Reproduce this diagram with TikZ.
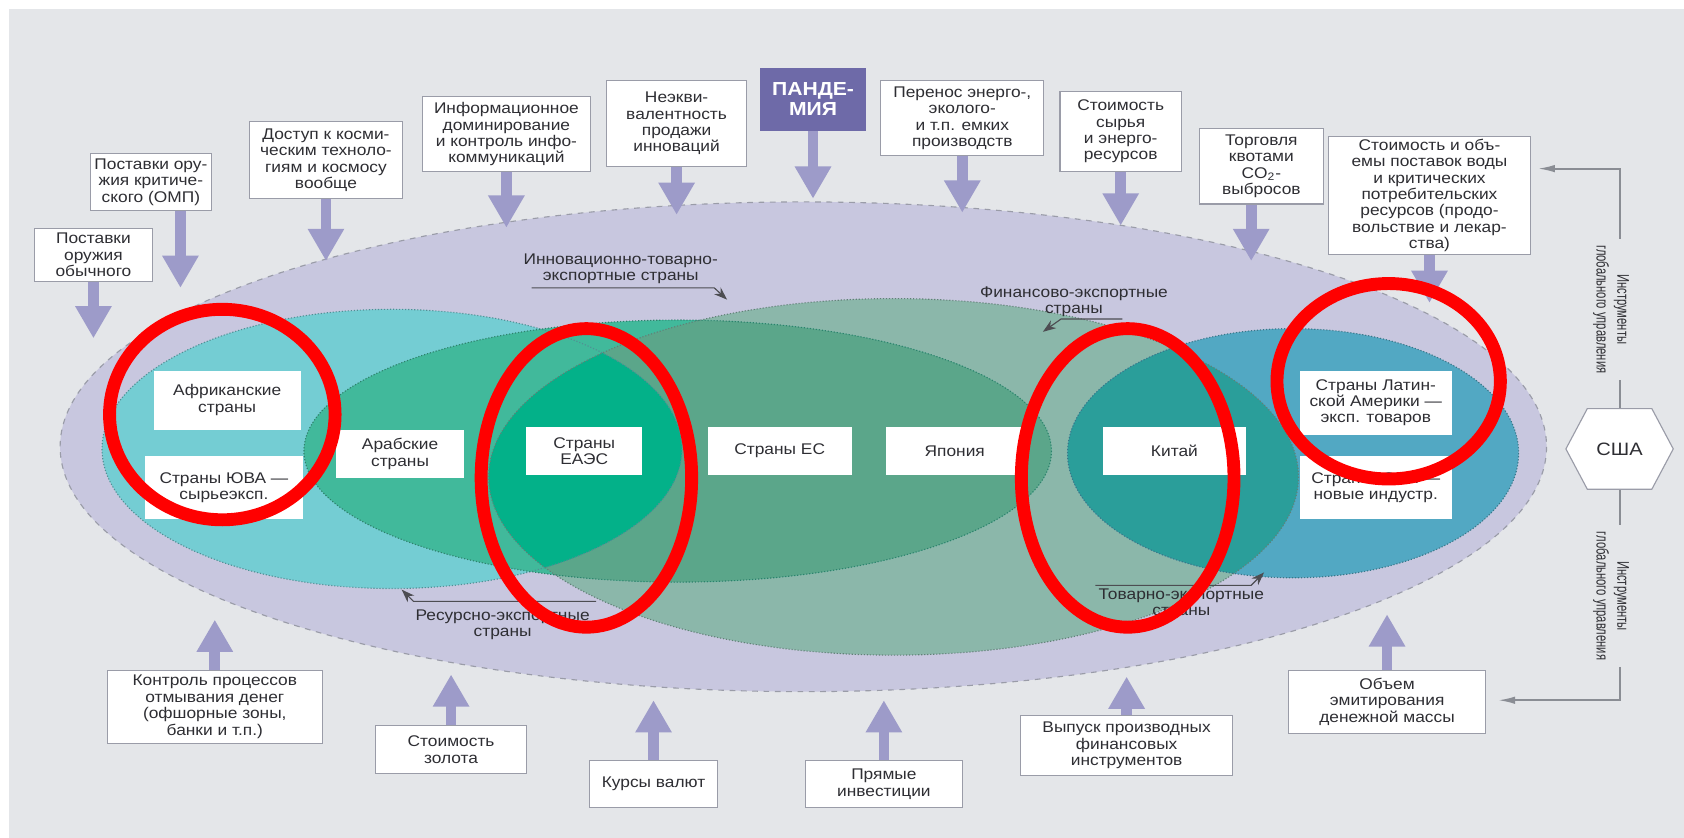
\documentclass[tikz,border=0pt]{standalone}
\usepackage{fontspec}
\setmainfont{Liberation Sans}[FakeStretch=1.12]
\newfontfamily\narrowfont{Liberation Sans}[FakeStretch=0.66]
\usetikzlibrary{arrows.meta,shapes.symbols}
\definecolor{bgcol}{HTML}{E4E6E9}
\definecolor{lavcol}{HTML}{C8C7DF}
\definecolor{cyancol}{HTML}{74CDD3}
\definecolor{innocol}{HTML}{8BB7AA}
\definecolor{fincol}{HTML}{41B99B}
\definecolor{darkgreen}{HTML}{5BA68A}
\definecolor{lenscol}{HTML}{03B189}
\definecolor{bluecol}{HTML}{52A8C3}
\definecolor{tealcol}{HTML}{2A9E9A}
\definecolor{arrowcol}{HTML}{9D9BC9}
\definecolor{pandcol}{HTML}{6E6AA8}
\definecolor{txtcol}{HTML}{2E2E33}
\definecolor{govcol}{HTML}{8A8D94}
\definecolor{edgecol}{HTML}{9A9CA8}
\begin{document}
\begin{tikzpicture}[x=0.02cm,y=-0.02cm,
  every node/.style={font=\fontsize{8.2}{8.7}\selectfont,text=txtcol,align=center},
  infobox/.style={draw=edgecol,fill=white,line width=0.6pt,inner sep=1pt},
  country/.style={fill=white,inner sep=1pt},
  feed/.style={draw=arrowcol,line width=0.2cm,-{Triangle[length=0.6cm,width=0.64cm]}},
  ptr/.style={draw=txtcol!85,line width=0.6pt,-{Stealth[length=7pt,width=5pt]}},
  gov/.style={draw=govcol,line width=1pt},
  govtext/.style={font=\narrowfont\fontsize{9}{11}\selectfont,rotate=-90},
  zone/.style={draw=#1,densely dotted,line width=0.6pt},
  ring/.style={draw=red,line width=0.24cm}]
    \useasboundingbox (0,0) rectangle (1568,780);
    \fill[white] (0,0) rectangle (1568,780);
    \fill[bgcol] (8,8) rectangle (1568,780);
    \fill[lavcol] (748,416) ellipse [x radius=692, y radius=228];
    \fill[cyancol] (365,418) ellipse [x radius=270, y radius=130];
    \fill[innocol] (832,444) ellipse [x radius=377, y radius=166];
    \fill[bluecol] (1204,422) ellipse [x radius=210, y radius=116];
    \fill[fincol] (631,420) ellipse [x radius=348, y radius=122];
    \begin{scope}
        \clip (832,444) ellipse [x radius=377, y radius=166];
        \fill[darkgreen] (631,420) ellipse [x radius=348, y radius=122];
        \fill[lenscol] (365,418) ellipse [x radius=270, y radius=130];
        \fill[tealcol] (1204,422) ellipse [x radius=210, y radius=116];
    \end{scope}
    \draw[draw=edgecol,dashed,line width=0.6pt] (748,416) ellipse [x radius=692, y radius=228];
    \draw[zone=cyancol!70!black] (365,418) ellipse [x radius=270, y radius=130];
    \draw[zone=innocol!70!black] (832,444) ellipse [x radius=377, y radius=166];
    \draw[zone=bluecol!70!black] (1204,422) ellipse [x radius=210, y radius=116];
    \draw[zone=fincol!70!black] (631,420) ellipse [x radius=348, y radius=122];

    \node[infobox,minimum width=2.2cm,minimum height=0.98cm] (arms) at (87,237.5) {Поставки\\оружия\\обычного};
    \node[infobox,minimum width=2.26cm,minimum height=1.06cm] (wmd) at (140.5,169.5) {Поставки ору-\\жия критиче-\\ского (ОМП)};
    \node[infobox,minimum width=2.86cm,minimum height=1.44cm] (space) at (303.5,149) {Доступ к косми-\\ческим техноло-\\гиям и космосу\\вообще};
    \node[infobox,minimum width=3.14cm,minimum height=1.4cm] (info) at (471.5,125) {Информационное\\доминирование\\и контроль инфо-\\коммуникаций};
    \node[infobox,minimum width=2.6cm,minimum height=1.6cm] (neq) at (630,115) {Неэкви-\\валентность\\продажи\\инноваций};
    \node[fill=pandcol,text=white,font=\fontsize{10}{10.5}\selectfont\bfseries,minimum width=1.96cm,minimum height=1.18cm] (pand) at (757,92.5) {ПАНДЕ-\\МИЯ};
    \node[infobox,minimum width=3.04cm,minimum height=1.4cm] (shift) at (896,110) {Перенос энерго-,\\эколого-\\и т.п. емких\\производств};
    \node[infobox,minimum width=2.26cm,minimum height=1.5cm] (raw) at (1043.5,122.5) {Стоимость\\сырья\\и энерго-\\ресурсов};
    \node[infobox,minimum width=2.3cm,minimum height=1.4cm] (quota) at (1174.5,155) {Торговля\\квотами\\CO\textsubscript{2}-\\выбросов};
    \node[infobox,minimum width=3.76cm,minimum height=2.2cm] (water) at (1331,182) {Стоимость и объ-\\емы поставок воды\\и критических\\потребительских\\ресурсов (продо-\\вольствие и лекар-\\ства)};

    \node[infobox,minimum width=4cm,minimum height=1.36cm] (launder) at (200,658) {Контроль процессов\\отмывания денег\\(офшорные зоны,\\банки и т.п.)};
    \node[infobox,minimum width=2.8cm,minimum height=0.9cm] (gold) at (420,698) {Стоимость\\золота};
    \node[infobox,minimum width=2.38cm,minimum height=0.88cm] (fx) at (608.5,730) {Курсы валют};
    \node[infobox,minimum width=2.92cm,minimum height=0.88cm] (invest) at (823,730) {Прямые\\инвестиции};
    \node[infobox,minimum width=3.96cm,minimum height=1.12cm] (deriv) at (1049,694) {Выпуск производных\\финансовых\\инструментов};
    \node[infobox,minimum width=3.66cm,minimum height=1.18cm] (money) at (1291.5,653.5) {Объем\\эмитирования\\денежной массы};

    \coordinate (armsT) at (87,315);
    \coordinate (wmdT) at (168,268);
    \coordinate (spaceT) at (303.5,243);
    \coordinate (infoT) at (471.5,212);
    \coordinate (neqT) at (630,200);
    \coordinate (pandT) at (757,185);
    \coordinate (shiftT) at (896,198);
    \coordinate (rawT) at (1043.5,210);
    \coordinate (quotaT) at (1165,243);
    \coordinate (waterT) at (1331,282);
    \coordinate (launderT) at (200,577);
    \coordinate (goldT) at (420,628);
    \coordinate (fxT) at (608.5,652);
    \coordinate (investT) at (823,652);
    \coordinate (derivT) at (1049,630);
    \coordinate (moneyT) at (1291.5,572);
    \draw[feed] (arms.south) -- (armsT);
    \draw[feed] (wmd.south -| wmdT) -- (wmdT);
    \draw[feed] (space.south) -- (spaceT);
    \draw[feed] (info.south) -- (infoT);
    \draw[feed] (neq.south) -- (neqT);
    \draw[feed] (pand.south) -- (pandT);
    \draw[feed] (shift.south) -- (shiftT);
    \draw[feed] (raw.south) -- (rawT);
    \draw[feed] (quota.south -| quotaT) -- (quotaT);
    \draw[feed] (water.south) -- (waterT);
    \draw[feed] (launder.north) -- (launderT);
    \draw[feed] (gold.north) -- (goldT);
    \draw[feed] (fx.north) -- (fxT);
    \draw[feed] (invest.north) -- (investT);
    \draw[feed] (deriv.north) -- (derivT);
    \draw[feed] (money.north) -- (moneyT);

    \node[country,minimum width=2.74cm,minimum height=1.1cm] (africa) at (211.5,372.5) {Африканские\\страны};
    \node[country,minimum width=2.94cm,minimum height=1.16cm] (seaRaw) at (208.5,454) {Страны ЮВА —\\сырьеэксп.};
    \node[country,minimum width=2.38cm,minimum height=0.9cm] (arab) at (372.5,422.5) {Арабские\\страны};
    \node[country,minimum width=2.16cm,minimum height=0.88cm] (eaes) at (544,420) {Страны\\ЕАЭС};
    \node[country,minimum width=2.68cm,minimum height=0.88cm] (eu) at (726,420) {Страны ЕС};
    \node[country,minimum width=2.56cm,minimum height=0.88cm] (japan) at (889,420) {Япония};
    \node[country,minimum width=2.66cm,minimum height=0.88cm] (china) at (1093.5,420) {Китай};
    \node[country,minimum width=2.84cm,minimum height=1.2cm] (latam) at (1281,375) {Страны Латин-\\ской Америки —\\эксп. товаров};
    \node[country,minimum width=2.84cm,minimum height=1.16cm] (seaInd) at (1281,454) {Страны ЮВА —\\новые индустр.};

    \node (innov) at (578,250) {Инновационно-товарно-\\экспортные страны};
    \node (fin) at (1000,281) {Финансово-экспортные\\страны};
    \node (res) at (468,582) {Ресурсно-экспортные\\страны};
    \node (goods) at (1100,562) {Товарно-экспортные\\страны};
    \coordinate (innovA) at (495,268);
    \coordinate (innovB) at (665,268);
    \coordinate (innovT) at (677,279);
    \coordinate (finA) at (1045,297);
    \coordinate (finB) at (988,297);
    \coordinate (finT) at (971,309);
    \coordinate (resA) at (555,560);
    \coordinate (resB) at (385,560);
    \coordinate (resT) at (374,549);
    \coordinate (goodsA) at (1020,545);
    \coordinate (goodsB) at (1165,545);
    \coordinate (goodsT) at (1177,533);
    \draw[ptr] (innovA) -- (innovB) -- (innovT);
    \draw[ptr] (finA) -- (finB) -- (finT);
    \draw[ptr] (resA) -- (resB) -- (resT);
    \draw[ptr] (goodsA) -- (goodsB) -- (goodsT);

    \node[signal,signal to=east and west,signal pointer angle=124,draw=edgecol,fill=white,line width=0.6pt,minimum width=2cm,minimum height=1.5cm,font=\fontsize{9.5}{9.5}\selectfont] (usa) at (1508,418) {США};
    \node[govtext] (govUp) at (1500,288) {Инструменты\\глобального управления};
    \node[govtext] (govDown) at (1500,555) {Инструменты\\глобального управления};
    \coordinate (waterIn) at (1432,157);
    \coordinate (moneyIn) at (1395,652);
    \draw[gov] (usa.north) -- (usa |- govUp.east);
    \draw[gov,-{Latex[length=9pt,width=4pt]}] (usa |- govUp.west) |- (waterIn);
    \draw[gov] (usa.south) -- (usa |- govDown.west);
    \draw[gov,-{Latex[length=9pt,width=4pt]}] (usa |- govDown.east) |- (moneyIn);

    \draw[ring] (207,386) ellipse [x radius=105, y radius=98];
    \draw[ring] (546,445) ellipse [x radius=98, y radius=139];
    \draw[ring] (1050,445) ellipse [x radius=99, y radius=139];
    \draw[ring] (1293,355) ellipse [x radius=104, y radius=91];
\end{tikzpicture}
\end{document}
